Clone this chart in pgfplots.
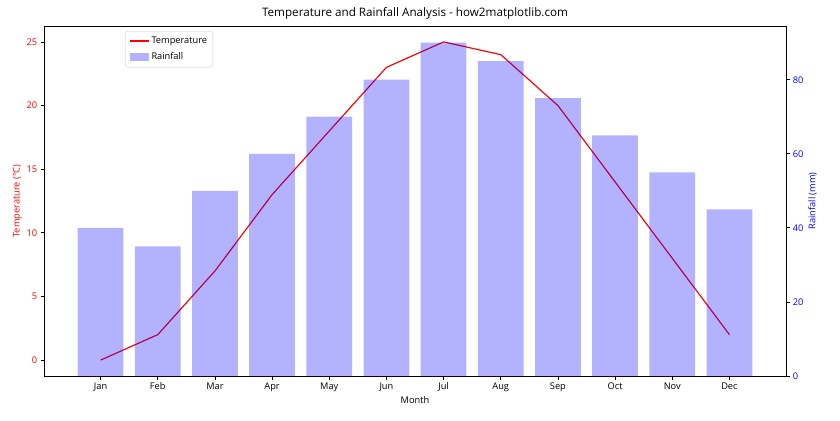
\documentclass[border=0pt]{standalone}
\usepackage{pgfplots}
\pgfplotsset{compat=1.18}
\usepackage{fontspec}
\setmainfont{Open Sans}

% one picture pixel = 12in/840 = 1.0286pt
\pgfplotsset{
  linelegend/.style={legend image code/.code={\draw[##1, sharp corners] (0pt,0pt) -- (20pt,0pt);}},
  barlegend/.style={legend image code/.code={\fill[blue, fill opacity=0.3, sharp corners] (0pt,-4pt) rectangle (20pt,4pt);}},
  common/.style={
    scale only axis,
    width=763.2pt, height=360pt,
    at={(0,0)}, anchor=south west,
    xmin=-0.99, xmax=11.99,
    tick align=outside,
    major tick length=3.6pt,
    tick style={black, line width=0.8pt},
    every axis label/.append style={font=\fontsize{9.5pt}{11pt}\selectfont},
    tick label style={font=\fontsize{9.5pt}{11pt}\selectfont},
    /pgf/number format/assume math mode=true,
    axis line style={line width=0.8pt},
  },
}

\begin{document}
\begin{tikzpicture}[x=1pt,y=1pt]
% page frame 840x420 px, axis lower left at (44,44) px
\path[use as bounding box] (-45.26,-45.26) rectangle (818.74,386.75);

\begin{axis}[common,
  ymin=-1.25, ymax=26.25,
  ytick={0,5,...,25},
  xtick={0,...,11},
  xticklabels={Jan,Feb,Mar,Apr,May,Jun,Jul,Aug,Sep,Oct,Nov,Dec},
  xtick pos=bottom, ytick pos=left,
  yticklabel style={red},
  xlabel={Month},
  xlabel style={yshift=2pt},
  ylabel={Temperature (°C)},
  ylabel style={red, yshift=-2pt},
  title={Temperature and Rainfall Analysis - how2matplotlib.com},
  title style={font=\fontsize{12pt}{14pt}\selectfont, yshift=-3pt},
]
\addplot[red, line width=1.2pt, mark=none] coordinates {
  (0,0) (1,2) (2,7) (3,13) (4,18) (5,23)
  (6,25) (7,24) (8,20) (9,14) (10,8) (11,2)
};
\end{axis}

\begin{axis}[common,
  ymin=0, ymax=94.5,
  ytick={0,20,...,80},
  axis x line=none,
  axis y line*=right,
  ytick pos=right,
  yticklabel style={blue},
  ylabel={Rainfall (mm)},
  ylabel style={blue, yshift=2pt},
  legend style={at={(rel axis cs:0.109,0.986)}, anchor=north west,
    font=\fontsize{9.5pt}{11pt}\selectfont, draw=black!20, rounded corners=2pt,
    row sep=4pt, inner sep=4pt},
  legend cell align=left,
]
\addlegendimage{red, line width=1.2pt, linelegend}
\addlegendentry{Temperature}
\addplot[ybar, bar width=0.8, fill=blue, fill opacity=0.3, draw=none, barlegend]
  coordinates {
  (0,40) (1,35) (2,50) (3,60) (4,70) (5,80)
  (6,90) (7,85) (8,75) (9,65) (10,55) (11,45)
};
\addlegendentry{Rainfall}
\end{axis}
\end{tikzpicture}
\end{document}
